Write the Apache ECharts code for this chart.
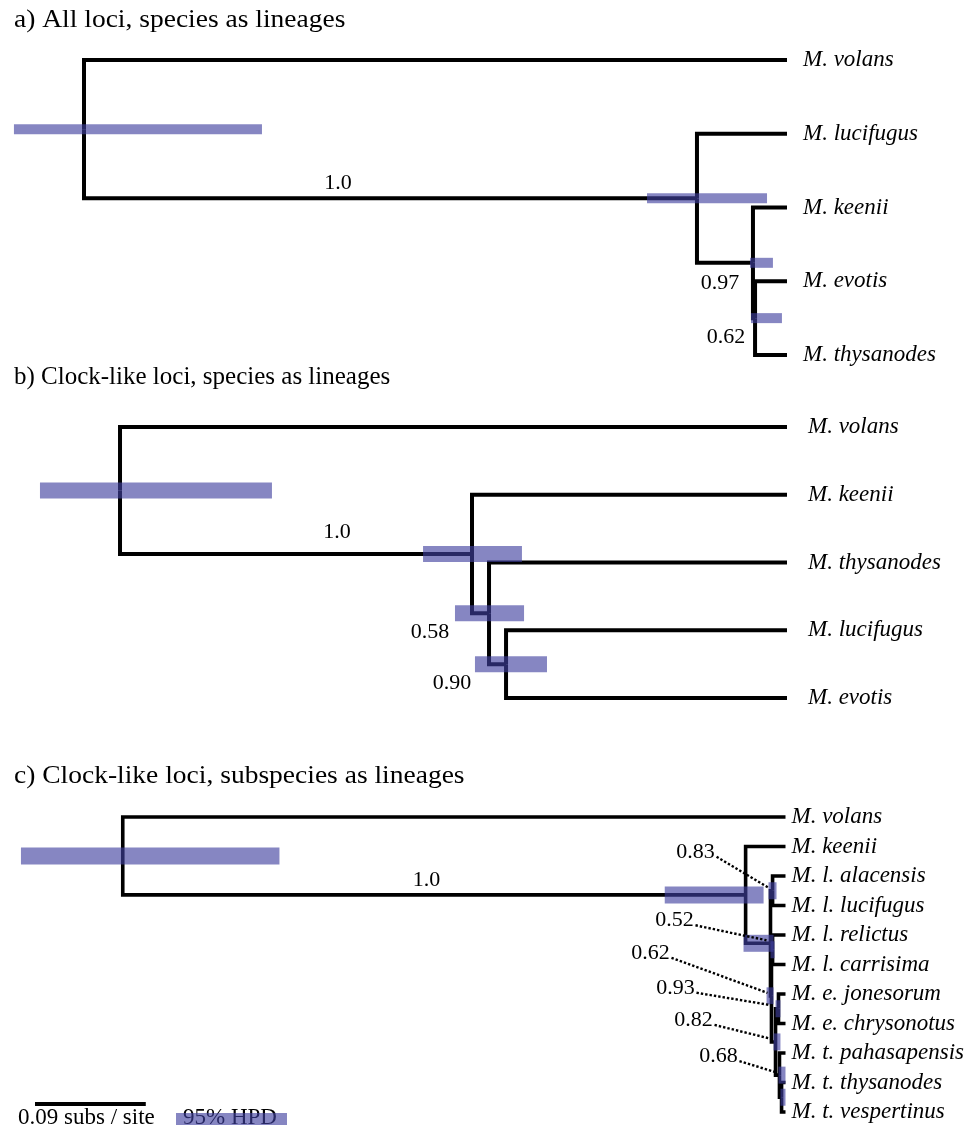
<!DOCTYPE html>
<html><head><meta charset="utf-8">
<script src="https://cdn.jsdelivr.net/npm/echarts@6/dist/echarts.min.js"></script>
<style>html,body{margin:0;padding:0;background:#fff}#c{width:967px;height:1128px}</style>
</head><body><div id="c"></div>
<script>
// ================= DATA (ages in substitutions / site, tips at 0) =================
// Panel a) All loci, species as lineages
const tipsA = ['M. volans', 'M. lucifugus', 'M. keenii', 'M. evotis', 'M. thysanodes'];
const childrenA = [[3, 4], [2, 5], [1, 6], [0, 7]];          // internal nodes 5..8
const ageA      = [0.0259, 0.0276, 0.0730, 0.5700];
const hpdLowA   = [0.0041, 0.0114, 0.0162, 0.4257];
const hpdHighA  = [0.0292, 0.0300, 0.1135, 0.6268];
const supportA  = ['0.62', '0.97', '1.0', ''];

// Panel b) Clock-like loci, species as lineages
const tipsB = ['M. volans', 'M. keenii', 'M. thysanodes', 'M. lucifugus', 'M. evotis'];
const childrenB = [[3, 4], [2, 5], [1, 6], [0, 7]];
const ageB      = [0.2278, 0.2416, 0.2554, 0.5408];
const hpdLowB   = [0.1946, 0.2132, 0.2149, 0.4176];
const hpdHighB  = [0.2530, 0.2692, 0.2951, 0.6057];
const supportB  = ['0.90', '0.58', '1.0', ''];

// Panel c) Clock-like loci, subspecies as lineages
const tipsC = ['M. volans', 'M. keenii', 'M. l. alacensis', 'M. l. lucifugus', 'M. l. relictus',
  'M. l. carrisima', 'M. e. jonesorum', 'M. e. chrysonotus', 'M. t. pahasapensis',
  'M. t. thysanodes', 'M. t. vespertinus'];
const childrenC = [[9, 10], [8, 11], [6, 7], [13, 12], [4, 5], [15, 14], [2, 3], [17, 16], [1, 18], [0, 19]]; // nodes 11..20
const ageC      = [0.0032, 0.0049, 0.0057, 0.0081, 0.0105, 0.0114, 0.0105, 0.0122, 0.0324, 0.5384];
const hpdLowC   = [0.0000, 0.0000, 0.0041, 0.0041, 0.0089, 0.0097, 0.0073, 0.0097, 0.0178, 0.4111];
const hpdHighC  = [0.0041, 0.0057, 0.0081, 0.0097, 0.0122, 0.0154, 0.0138, 0.0341, 0.0981, 0.6211];
const supportC  = ['', '0.68', '0.93', '0.82', '', '0.62', '0.83', '0.52', '1.0', ''];

const scaleBarLength = 0.09;   // subs / site
const scaleBarLabel = '0.09 subs / site';
const hpdLegendLabel = '95% HPD';
const titles = ['a) All loci, species as lineages', 'b) Clock-like loci, species as lineages', 'c) Clock-like loci, subspecies as lineages'];

// ================= LAYOUT / STYLE =================
const SERIF = '"Liberation Serif", "DejaVu Serif", serif';
const HPD_COLOR = 'rgba(63,63,159,0.63)';
const XMAX = 0.63;
const grids = [
  {left: 10, width: 777, top: 60, height: 295},
  {left: 10, width: 777, top: 427, height: 271},
  {left: 10, width: 777, top: 817, height: 295}
];
const titleY = [20, 377, 776];
const titleScale = [1.1, 1.0, 1.1];
const labelMargin = [16, 21, 6];
const hpdThick = [10, 16, 17];
const lineW = [4, 4, 3.6];
// support label offsets (px) from node, per panel, indexed like support arrays
const supOffA = [[-29, 19], [-33, 20], [-359, -15], null];
const supOffB = [[-54, 19], [-59, 19], [-135, -22], null];
const supOffC = [null, [-61, -19], [-103, -21], [-82, -22], null, [-121, -43], [-77, -39], [-96, -23], [-319, -15], null];
const leaderC = [false, true, true, true, false, true, true, true, false, false];

// ================= BUILD =================
function layoutTree(tips, children, ages) {
  const n = tips.length;
  const xs = tips.map(() => 0), ys = tips.map((_, i) => i);
  children.forEach((ch, k) => {
    xs[n + k] = ages[k];
    ys[n + k] = (ys[ch[0]] + ys[ch[1]]) / 2;
  });
  return {n, xs, ys};
}

function edgeData(T, children) {
  const out = [];
  children.forEach((ch, k) => {
    const p = T.n + k;
    ch.forEach(c => out.push([T.xs[p], T.ys[p], T.xs[p], T.ys[c], T.xs[c], T.ys[c]]));
  });
  const r = T.n + children.length - 1;
  out.push([T.xs[r], T.ys[r], T.xs[r], T.ys[r], T.xs[r], T.ys[r], 1]); // root stem
  return out;
}

function edgeSeries(gi, data) {
  const lw = lineW[gi];
  return {
    type: 'custom', xAxisIndex: gi, yAxisIndex: gi, data, silent: true, z: 2,
    renderItem(params, api) {
      const p0 = api.coord([api.value(0), api.value(1)]);
      if (api.value(6) === 1) {
        return {type: 'line', shape: {x1: p0[0] - 7, y1: p0[1], x2: p0[0], y2: p0[1]},
          style: {stroke: '#000', lineWidth: lw}};
      }
      const p1 = api.coord([api.value(2), api.value(3)]);
      const p2 = api.coord([api.value(4), api.value(5)]);
      return {type: 'polyline', shape: {points: [p0, p1, p2]},
        style: {stroke: '#000', lineWidth: lw, fill: null, lineJoin: 'miter', lineCap: 'butt'}};
    }
  };
}

function hpdSeries(gi, T, children, lo, hi) {
  const data = children.map((ch, k) => [lo[k], hi[k], T.ys[T.n + k]]);
  const th = hpdThick[gi];
  return {
    type: 'custom', xAxisIndex: gi, yAxisIndex: gi, data, silent: true, z: 3,
    renderItem(params, api) {
      const a = api.coord([api.value(0), api.value(2)]);
      const b = api.coord([api.value(1), api.value(2)]);
      const x0 = Math.min(a[0], b[0]), x1 = Math.max(a[0], b[0]);
      return {type: 'rect', shape: {x: x0, y: a[1] - th / 2, width: Math.max(x1 - x0, 1), height: th},
        style: {fill: HPD_COLOR}};
    }
  };
}

function supportSeries(gi, T, children, sup, offs, leaders) {
  const data = [], meta = [];
  children.forEach((ch, k) => {
    if (!sup[k]) return;
    data.push([T.xs[T.n + k], T.ys[T.n + k]]);
    meta.push({text: sup[k], off: offs[k], leader: leaders ? leaders[k] : false});
  });
  return {
    type: 'custom', xAxisIndex: gi, yAxisIndex: gi, data, silent: true, z: 4,
    renderItem(params, api) {
      const m = meta[params.dataIndex];
      const p = api.coord([api.value(0), api.value(1)]);
      const cx = p[0] + m.off[0], cy = p[1] + m.off[1];
      const children = [{type: 'text', style: {text: m.text, x: cx, y: cy, align: 'center', verticalAlign: 'middle',
        fontFamily: SERIF, fontSize: 22, fill: '#000'}}];
      if (m.leader) {
        children.push({type: 'line', shape: {x1: cx + 21, y1: cy + 5, x2: p[0] - 4, y2: p[1] - 3},
          style: {stroke: '#000', lineWidth: 2.4, lineDash: [2.4, 2]}});
      }
      return {type: 'group', children};
    }
  };
}

const TA = layoutTree(tipsA, childrenA, ageA);
const TB = layoutTree(tipsB, childrenB, ageB);
const TC = layoutTree(tipsC, childrenC, ageC);
const tipLists = [tipsA, tipsB, tipsC];

const xAxes = grids.map((g, i) => ({type: 'value', gridIndex: i, inverse: true, min: 0, max: XMAX, show: false}));
const yAxes = tipLists.map((tips, i) => ({
  type: 'value', gridIndex: i, inverse: true, min: 0, max: tips.length - 1, interval: 1, position: 'right',
  axisLine: {show: false}, axisTick: {show: false}, splitLine: {show: false},
  axisLabel: {margin: labelMargin[i], formatter: v => tips[v] || '', fontFamily: SERIF, fontStyle: 'italic',
    fontSize: 23, color: '#000', showMinLabel: true, showMaxLabel: true}
}));

// scale bar (length from the x scale)
const scaleSeries = {
  type: 'custom', xAxisIndex: 2, yAxisIndex: 2, data: [[scaleBarLength]], silent: true, z: 4,
  renderItem(params, api) {
    const w = api.size([api.value(0), 0])[0];
    return {type: 'group', children: [
      {type: 'line', shape: {x1: 35, y1: 1104, x2: 35 + w, y2: 1104}, style: {stroke: '#000', lineWidth: 4}},
      {type: 'text', style: {text: scaleBarLabel, x: 18, y: 1118, verticalAlign: 'middle', fontFamily: SERIF, fontSize: 23, fill: '#000'}}
    ]};
  }
};

const titleGraphics = titles.map((t, i) => ({
  type: 'text', x: 14, y: titleY[i], scaleX: titleScale[i], z: 5,
  style: {text: t, fontFamily: SERIF, fontSize: 25, fill: '#000', verticalAlign: 'middle'}
}));

const option = {
  animation: false,
  backgroundColor: '#fff',
  grid: grids,
  xAxis: xAxes,
  yAxis: yAxes,
  graphic: titleGraphics.concat([
    {type: 'text', x: 183, y: 1118, z: 5, style: {text: hpdLegendLabel, fontFamily: SERIF, fontSize: 23, fill: '#000', verticalAlign: 'middle'}},
    {type: 'rect', x: 176, y: 1113, z: 6, shape: {width: 111, height: 12}, style: {fill: HPD_COLOR}}
  ]),
  series: [
    edgeSeries(0, edgeData(TA, childrenA)),
    edgeSeries(1, edgeData(TB, childrenB)),
    edgeSeries(2, edgeData(TC, childrenC)),
    hpdSeries(0, TA, childrenA, hpdLowA, hpdHighA),
    hpdSeries(1, TB, childrenB, hpdLowB, hpdHighB),
    hpdSeries(2, TC, childrenC, hpdLowC, hpdHighC),
    supportSeries(0, TA, childrenA, supportA, supOffA),
    supportSeries(1, TB, childrenB, supportB, supOffB),
    supportSeries(2, TC, childrenC, supportC, supOffC, leaderC),
    scaleSeries
  ]
};
const chart = echarts.init(document.getElementById('c'), null, {renderer: 'canvas'});
chart.setOption(option);
</script>
</body></html>
